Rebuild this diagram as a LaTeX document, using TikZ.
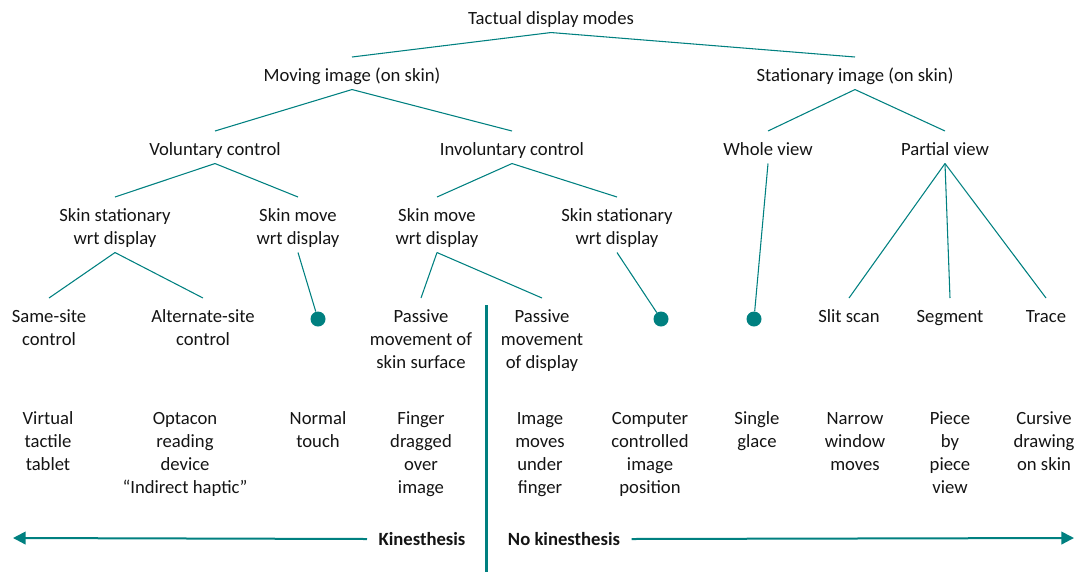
\documentclass[tikz,border=0pt]{standalone}
\usepackage{fontspec}
\setmainfont{Carlito}
\usetikzlibrary{arrows.meta}
\definecolor{tealc}{RGB}{0,128,128}
\definecolor{txt}{RGB}{20,20,20}
\newcommand{\topstrutx}{\rule{0pt}{18pt}}
\newcommand{\botstrutx}{\rule[-6pt]{0pt}{6pt}}
\begin{document}
\begin{tikzpicture}[x=0.75pt,y=-0.75pt,
  every node/.style={font=\fontsize{14}{17.25}\selectfont, text=txt},
  lbl/.style={align=center, inner sep=0pt, anchor=north,
    execute at begin node=\topstrutx, execute at end node=\botstrutx},
  lblm/.style={align=center, inner sep=0pt, anchor=north},
  conn/.style={draw=tealc, line width=0.8pt},
  dotc/.style={circle, fill=tealc, minimum size=11.25pt, inner sep=0pt},
  kinlbl/.style={font=\fontsize{14}{17.25}\selectfont\bfseries, inner ysep=0pt, inner xsep=8.5pt},
  axisline/.style={draw=tealc, line width=1.5pt, -{Triangle[length=9.5pt,width=9.5pt]}},
  divider/.style={draw=tealc, line width=2.25pt}]
\useasboundingbox (0,0) rectangle (1078,572);

% tree nodes (placed by their top edge)
\node[lbl] (root) at (551,0) {Tactual display modes};
\node[lbl] (moving) at (352,57) {Moving image (on skin)};
\node[lbl] (stat) at (855,57) {Stationary image (on skin)};
\node[lbl] (vol) at (215,131) {Voluntary control};
\node[lbl] (invol) at (512,131) {Involuntary control};
\node[lbl] (whole) at (768,131) {Whole view};
\node[lbl] (partial) at (945,131) {Partial view};
\node[lblm] (ssl) at (115,197) {\topstrutx Skin stationary\\wrt display\botstrutx};
\node[lblm] (sml) at (298,197) {\topstrutx Skin move\\wrt display\botstrutx};
\node[lblm] (smm) at (437,197) {\topstrutx Skin move\\wrt display\botstrutx};
\node[lblm] (ssr) at (617,197) {\topstrutx Skin stationary\\wrt display\botstrutx};
\node[lblm] (same) at (49,298) {\topstrutx Same-site\\control\botstrutx};
\node[lblm] (alt) at (203,298) {\topstrutx Alternate-site\\control\botstrutx};
\node[dotc] (dotA) at (318,319) {};
\node[lblm] (pskin) at (421,298) {\topstrutx Passive\\movement of\\skin surface\botstrutx};
\node[lblm] (pdisp) at (542,298) {\topstrutx Passive\\movement\\of display\botstrutx};
\node[dotc] (dotB) at (661,319) {};
\node[dotc] (dotC) at (754,319) {};
\node[lbl] (slit) at (849,298) {Slit scan};
\node[lbl] (segment) at (950,298) {Segment};
\node[lbl] (trace) at (1046,298) {Trace};

% examples
\node[lblm] (ex1) at (48,400.5) {\topstrutx Virtual\\tactile\\tablet};
\node[lblm] (ex2) at (185,400.5) {\topstrutx Optacon\\reading\\device\\“Indirect haptic”};
\node[lblm] (ex3) at (318,400.5) {\topstrutx Normal\\touch};
\node[lblm] (ex4) at (421,400.5) {\topstrutx Finger\\dragged\\over\\image};
\node[lblm] (ex5) at (540,400.5) {\topstrutx Image\\moves\\under\\finger};
\node[lblm] (ex6) at (650,400.5) {\topstrutx Computer\\controlled\\image\\position};
\node[lblm] (ex7) at (757,400.5) {\topstrutx Single\\glace};
\node[lblm] (ex8) at (855,400.5) {\topstrutx Narrow\\window\\moves};
\node[lblm] (ex9) at (950,400.5) {\topstrutx Piece\\by\\piece\\view};
\node[lblm] (ex10) at (1044,400.5) {\topstrutx Cursive\\drawing\\on skin};

% connectors
\draw[conn] (root.south) -- (moving.north);
\draw[conn] (root.south) -- (stat.north);
\draw[conn] (moving.south) -- (vol.north);
\draw[conn] (moving.south) -- (invol.north);
\draw[conn] (stat.south) -- (whole.north);
\draw[conn] (stat.south) -- (partial.north);
\draw[conn] (vol.south) -- (ssl.north);
\draw[conn] (vol.south) -- (sml.north);
\draw[conn] (invol.south) -- (smm.north);
\draw[conn] (invol.south) -- (ssr.north);
\draw[conn] (ssl.south) -- (same.north);
\draw[conn] (ssl.south) -- (alt.north);
\draw[conn] (sml.south) -- (dotA);
\draw[conn] (smm.south) -- (pskin.north);
\draw[conn] (smm.south) -- (pdisp.north);
\draw[conn] (ssr.south) -- (dotB);
\draw[conn] (whole.south) -- (dotC);
\draw[conn] (partial.south) -- (slit.north);
\draw[conn] (partial.south) -- (segment.north);
\draw[conn] (partial.south) -- (trace.north);

% kinesthesis axis
\node[kinlbl] (kin) at (422,539) {Kinesthesis};
\node[kinlbl] (nokin) at (564,539) {No kinesthesis};
\coordinate (leftend) at (13,538);
\coordinate (rightend) at (1074,538);
\coordinate (divtop) at (486,305);
\coordinate (divbot) at (486,572);
\draw[axisline] (kin.west) -- (leftend);
\draw[axisline] (nokin.east) -- (rightend);
\draw[divider] (divtop) -- (divbot);
\end{tikzpicture}
\end{document}
